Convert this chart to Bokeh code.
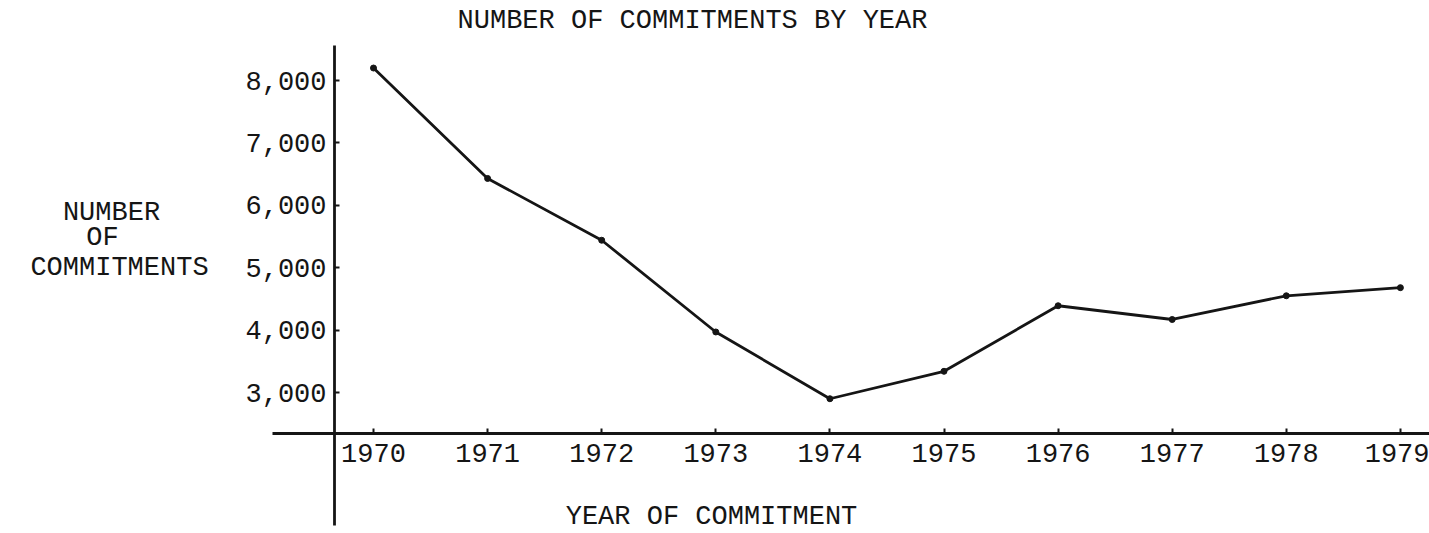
from bokeh.plotting import figure
from bokeh.models import FixedTicker, LinearAxis, Label, Range1d, NumeralTickFormatter, BasicTickFormatter
from bokeh.embed import file_html
from bokeh.resources import INLINE

# ---- data ----
years = [1970, 1971, 1972, 1973, 1974, 1975, 1976, 1977, 1978, 1979]
commitments = [8200, 6430, 5440, 3970, 2900, 3340, 4390, 4170, 4550, 4680]
x_tick_labels = ["1970", "1971", "1972", "1973", "1974", "1975", "1976", "1977", "1978", "1979"]
y_ticks = [3000, 4000, 5000, 6000, 7000, 8000]
y_tick_labels = ["3,000", "4,000", "5,000", "6,000", "7,000", "8,000"]
title_text = "NUMBER OF COMMITMENTS BY YEAR"
x_title = "YEAR OF COMMITMENT"
y_title_lines = ["NUMBER", "OF", "COMMITMENTS"]

FONT = "Liberation Mono"
INK = "#151515"
FS = "27px"
W, H = 1429, 533

# pixel -> data helpers for placing decorations/annotations
def dx(px):
    return 1970 + (px - 373) / 114.1

def dy(py):
    return 8000 - (py - 80) / 0.0624

p = figure(width=W, height=H,
           x_range=Range1d(dx(0), dx(W)),
           y_range=Range1d(dy(H), dy(0)),
           x_axis_location=None, y_axis_location=None,
           toolbar_location=None, output_backend="svg",
           min_border_left=0, min_border_right=0,
           min_border_top=0, min_border_bottom=0)
p.grid.visible = False
p.outline_line_color = None
p.background_fill_color = "white"
p.border_fill_color = "white"

def style_axis(ax):
    ax.axis_line_color = None
    ax.major_tick_in = 5
    ax.major_tick_out = 0
    ax.major_tick_line_width = 2
    ax.major_tick_line_color = INK
    ax.minor_tick_in = 0
    ax.minor_tick_out = 0
    ax.major_label_text_font = FONT
    ax.major_label_text_font_size = FS
    ax.major_label_text_color = INK

X_AXIS_Y = dy(433)
Y_AXIS_X = dx(334)

xaxis = LinearAxis(ticker=FixedTicker(ticks=years),
                   formatter=BasicTickFormatter(use_scientific=False),
                   major_label_overrides=dict(zip(years, x_tick_labels)),
                   fixed_location=X_AXIS_Y)
style_axis(xaxis)
xaxis.major_label_standoff = 10
p.add_layout(xaxis, "below")

yaxis = LinearAxis(ticker=FixedTicker(ticks=y_ticks),
                   formatter=NumeralTickFormatter(format="0,0"),
                   major_label_overrides=dict(zip(y_ticks, y_tick_labels)),
                   fixed_location=Y_AXIS_X)
style_axis(yaxis)
yaxis.major_label_standoff = 8
p.add_layout(yaxis, "left")

# axis lines (y axis crosses below the x axis, x axis extends left of the y axis)
p.segment(x0=[Y_AXIS_X, dx(272)], y0=[dy(45), X_AXIS_Y],
          x1=[Y_AXIS_X, dx(W)], y1=[dy(525), X_AXIS_Y],
          line_width=2.8, line_color=INK)

p.line(years, commitments, line_width=2.8, line_color=INK)
p.scatter(years, commitments, size=6, color=INK)

def add_label(text, px, py):
    p.add_layout(Label(x=dx(px), y=dy(py), text=text, text_font=FONT,
                       text_font_size=FS, text_color=INK,
                       text_align="center", text_baseline="alphabetic"))

add_label(title_text, 692, 20)
add_label(y_title_lines[0], 111, 212)
add_label(y_title_lines[1], 102, 237)
add_label(y_title_lines[2], 119, 267)
add_label(x_title, 711, 516)

open("out.html", "w").write(file_html(p, INLINE))
